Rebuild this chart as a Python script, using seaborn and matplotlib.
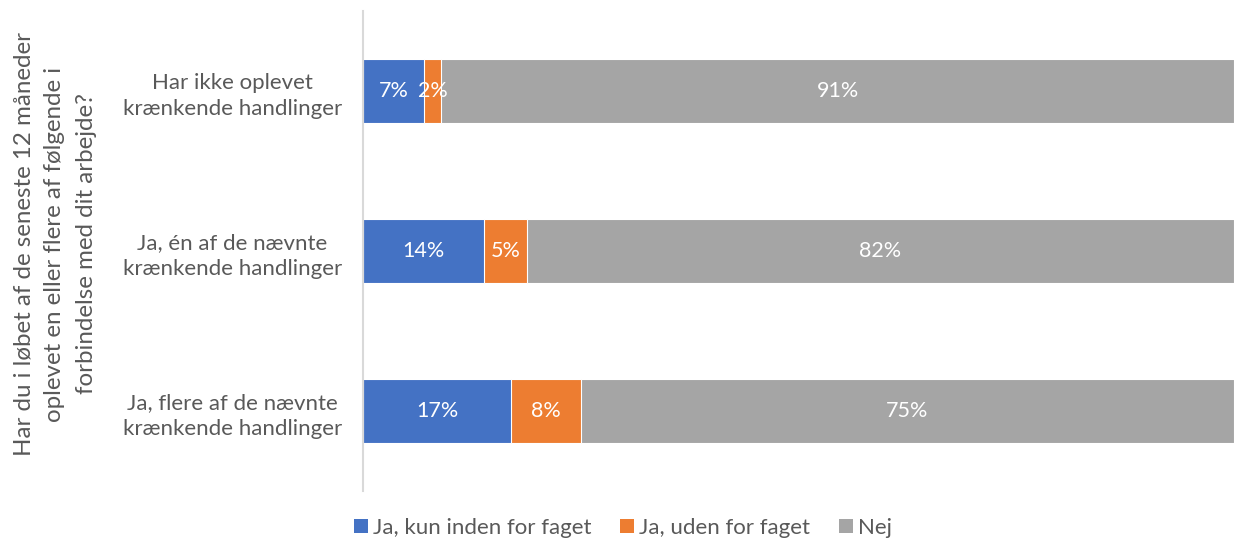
import pandas as pd
import matplotlib.pyplot as plt
import seaborn as sns
from matplotlib.patches import Patch

sns.set_theme(style="white")
plt.rcParams['font.family'] = ['Lato', 'DejaVu Sans']

categories = [
    "Har ikke oplevet\nkrænkende handlinger",
    "Ja, én af de nævnte\nkrænkende handlinger",
    "Ja, flere af de nævnte\nkrænkende handlinger",
]
series_names = ["Ja, kun inden for faget", "Ja, uden for faget", "Nej"]
kun_inden = [7, 14, 17]
uden_for = [2, 5, 8]
nej = [91, 82, 75]
colors = ["#4472C4", "#ED7D31", "#A5A5A5"]
text_grey = "#595959"

df = pd.DataFrame({
    "category": categories,
    series_names[0]: kun_inden,
    series_names[1]: uden_for,
    series_names[2]: nej,
})

# 100% stacked: normalise each row
raw = df[series_names]
shares = raw.div(raw.sum(axis=1), axis=0) * 100
cum = shares.cumsum(axis=1)

fig = plt.figure(figsize=(12.34, 5.38), dpi=100)
ax = fig.add_axes([363 / 1234, 1 - 491 / 538, 871 / 1234, 480 / 538])

# draw from the total down so each layer covers the previous one
for name, col in reversed(list(zip(series_names, colors))):
    sns.barplot(x=cum[name], y=df["category"], orient="h", color=col,
                width=0.4, edgecolor="white", linewidth=0.8, ax=ax,
                saturation=1)

for i in range(len(df)):
    start = 0
    for name in series_names:
        w = shares.loc[i, name]
        ax.text(start + w / 2, i, f"{raw.loc[i, name]}%", ha="center",
                va="center", color="white", fontsize=15.5)
        start += w

ax.set_xlim(0, 100)
ax.set_ylim(2.5, -0.5)
ax.set_xticks([])
ax.set_xlabel("")
ax.set_ylabel("")
ax.tick_params(axis="y", length=0, pad=15)
ax.set_yticks(range(len(categories)))
ax.set_yticklabels(categories, multialignment="center", fontsize=16,
                   color=text_grey, linespacing=1.35)
for s in ["top", "right", "bottom"]:
    ax.spines[s].set_visible(False)
ax.spines["left"].set_color("#D9D9D9")
ax.spines["left"].set_linewidth(1.5)

fig.text(55 / 1234, 1 - 244 / 538,
         "Har du i løbet af de seneste 12 måneder\n"
         "oplevet en eller flere af følgende i\n"
         "forbindelse med dit arbejde?",
         rotation=90, ha="center", va="center", multialignment="center",
         fontsize=17.4, color=text_grey, linespacing=1.6)

handles = [Patch(facecolor=c, edgecolor="none") for c in colors]
fig.legend(handles, series_names, loc="center", bbox_to_anchor=(0.505, 1 - 528 / 538),
           ncol=3, frameon=False, fontsize=16, labelcolor=text_grey,
           handlelength=0.6, handleheight=0.6, handletextpad=0.25,
           columnspacing=1.3)

fig.savefig("out.png", dpi=100)
